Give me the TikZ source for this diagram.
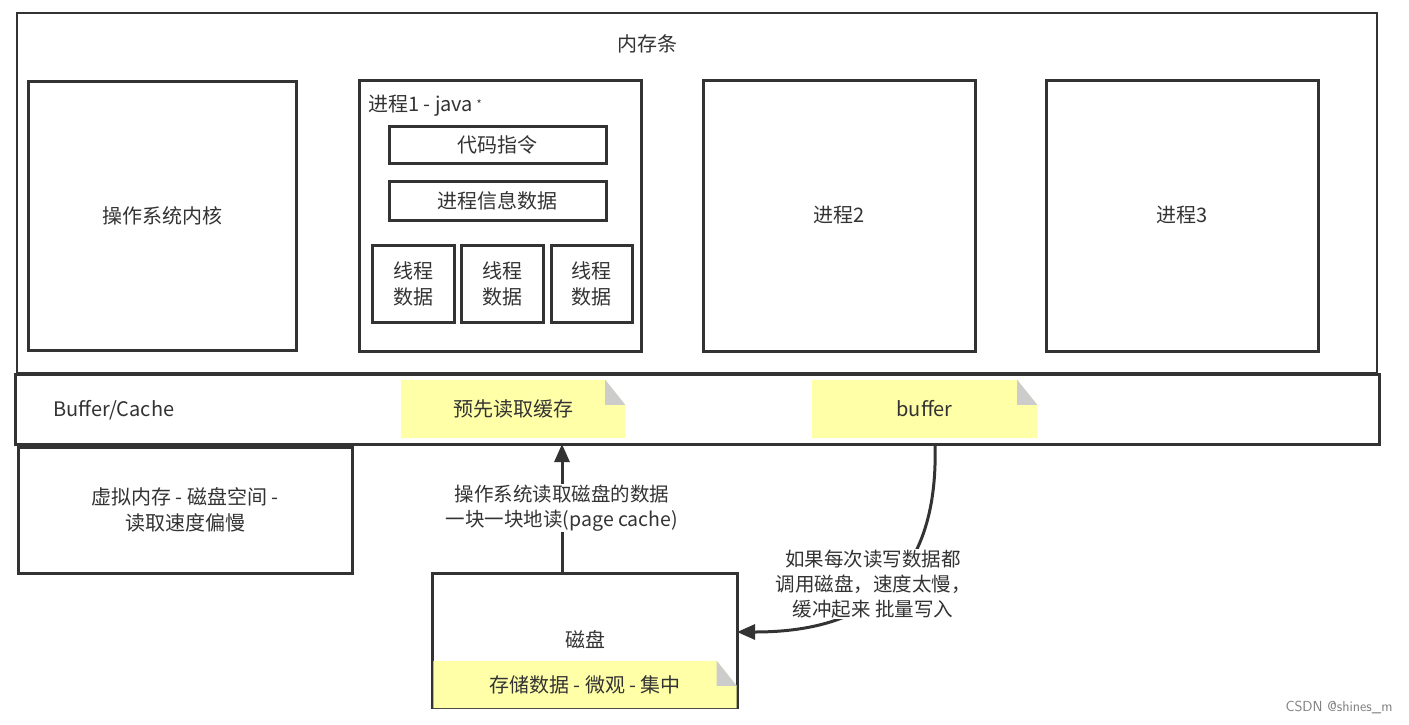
\documentclass[tikz,border=0pt]{standalone}
\usepackage{fontspec}
\setmainfont{Noto Sans CJK SC}
\usetikzlibrary{arrows.meta,calc}
\definecolor{ln}{HTML}{333333}
\definecolor{txt}{HTML}{333333}
\definecolor{notey}{HTML}{FFFFA8}
\definecolor{foldg}{HTML}{CCCCCC}
\begin{document}
\begin{tikzpicture}[x=1pt,y=-1pt,
  box/.style={draw=ln, line width=3pt, inner sep=0pt, fill=white, text=txt,
    font=\fontsize{20}{26}\selectfont, align=center},
  lbl/.style={inner sep=0pt, text=txt, font=\fontsize{20}{26}\selectfont, align=center},
  note/.style={inner sep=0pt, text=txt, font=\fontsize{20}{26}\selectfont, align=center},
  conn/.style={draw=ln, line width=3pt, -{Triangle[length=18pt,width=15pt]}},
  elbl/.style={fill=white, inner sep=1pt, text=txt, font=\fontsize{19.5}{25}\selectfont, align=center}
]
\useasboundingbox (0,0) rectangle (1409,724);
\fill[white] (0,0) rectangle (1409,724);

% memory stick
\node[box, line width=2.6pt, minimum width=1360pt, minimum height=360pt] (mem) at (697,193) {};
\node[lbl] (memt) at (647,44) {内存条};

\node[box, minimum width=268pt, minimum height=269pt] (os) at (162,215.5) {操作系统内核};

\node[box, minimum width=282pt, minimum height=271pt] (p1) at (500,215.5) {};
\node[lbl, anchor=west] (p1t) at (368,106) {进程1 - java\,\raisebox{3pt}{\fontsize{11}{11}\selectfont *}};
\node[box, minimum width=217pt, minimum height=37pt] (code) at (497.5,144.5) {代码指令};
\node[box, minimum width=217pt, minimum height=39pt] (info) at (497.5,200.5) {进程信息数据};
\node[box, minimum width=82pt, minimum height=77pt] (t1) at (413,283.5) {线程\\数据};
\node[box, minimum width=82pt, minimum height=77pt] (t2) at (502,283.5) {线程\\数据};
\node[box, minimum width=81pt, minimum height=77pt] (t3) at (591.5,283.5) {线程\\数据};

\node[box, minimum width=272pt, minimum height=271pt] (p2) at (839,215.5) {进程2};
\node[box, minimum width=272pt, minimum height=271pt] (p3) at (1182,215.5) {进程3};

% buffer/cache
\node[box, minimum width=1364pt, minimum height=70pt] (buf) at (697,409) {};
\node[lbl, anchor=west] (buft) at (53,410) {Buffer/Cache};

% notes
\foreach \nm/\cx/\cy/\w/\h/\t in {n1/513/409/224/58/预先读取缓存, n2/924.5/409/225/58/buffer}{
  \node[note, minimum width=\w pt, minimum height=\h pt] (\nm) at (\cx,\cy) {};
  \fill[notey] (\nm.south west) -- (\nm.north west) -- ($(\nm.north east)+(-20,0)$)
     -- ($(\nm.north east)+(0,25)$) -- (\nm.south east) -- cycle;
  \fill[foldg] ($(\nm.north east)+(-20,0)$) -- ($(\nm.north east)+(0,25)$) -- ($(\nm.north east)+(-20,25)$) -- cycle;
  \node[note] at (\nm) {\t};
}

% virtual memory
\node[box, minimum width=334pt, minimum height=126pt] (vm) at (185,510) {虚拟内存 - 磁盘空间 -\\读取速度偏慢};

% disk
\node[box, minimum width=305pt, minimum height=134pt] (disk) at (584.5,640) {};
\node[note, minimum width=303pt, minimum height=47pt] (dn) at (585,684.5) {};
\fill[notey] (dn.south west) -- (dn.north west) -- ($(dn.north east)+(-20,0)$)
   -- ($(dn.north east)+(0,25)$) -- (dn.south east) -- cycle;
\fill[foldg] ($(dn.north east)+(-20,0)$) -- ($(dn.north east)+(0,25)$) -- ($(dn.north east)+(-20,25)$) -- cycle;
\node[note] at (dn) {存储数据 - 微观 - 集中};
\node[lbl] (diskt) at (585,640) {磁盘};

% connectors
\coordinate (a1s) at (562,573);
\coordinate (a1e) at (562,444);
\draw[conn] (a1s) -- (a1e);
\node[elbl] (a1l) at (562,508) {操作系统读取磁盘的数据\\一块一块地读(page cache)};

\coordinate (a2s) at (935,444);
\coordinate (a2e) at (737,632);
\draw[conn] (a2s) .. controls (940,610) and (830,632) .. (a2e);
\node[elbl] (a2l) at (873,584) {如果每次读写数据都\\调用磁盘，速度太慢，\\缓冲起来 批量写入};

\node[inner sep=0pt, text=gray, font=\fontsize{14.5}{14.5}\selectfont\sffamily] (wm) at (1339,707) {CSDN @shines\_m};
\end{tikzpicture}
\end{document}
